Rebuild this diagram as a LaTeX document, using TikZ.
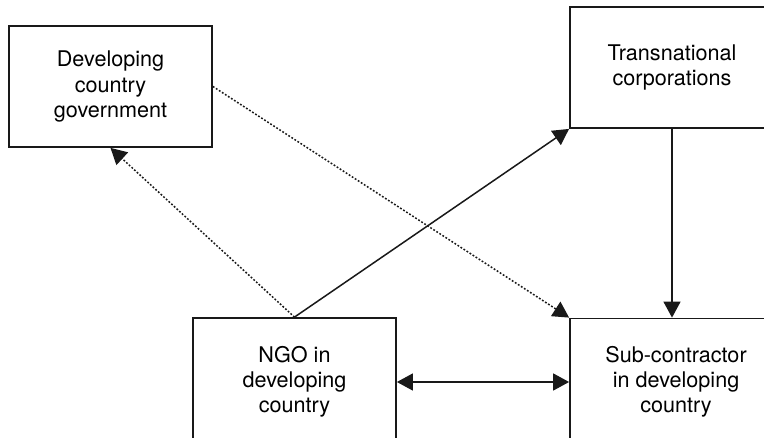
\documentclass[tikz,border=0pt]{standalone}
\usepackage{fontspec}
\setmainfont{TeX Gyre Heros}
\usepackage{tikz}
\usetikzlibrary{arrows.meta}
\tikzset{
	boxstyle/.style={rectangle,draw=black!90,line width=0.9pt,fill=white,align=center,font=\fontsize{10.8}{12.6}\selectfont},
	linkstyle/.style={line width=0.75pt,black!90,-{Triangle[length=8pt,width=8.5pt]}},
	dotstyle/.style={linkstyle,dash pattern=on 0.9pt off 0.9pt}
}
\begin{document}
\begin{tikzpicture}[x=0.5pt,y=-0.5pt]
	\clip (0,0) rectangle (764,438);
	\fill[white] (0,0) rectangle (764,438);
	\node[boxstyle,minimum width=101.5pt,minimum height=60.5pt] (gov) at (110.5,86.5) {Developing\\country\\government};
	\node[boxstyle,minimum width=102pt,minimum height=60.5pt] (tnc) at (672,67.5) {Transnational\\corporations};
	\node[boxstyle,minimum width=101.5pt,minimum height=64pt] (ngo) at (294.5,382) {NGO in\\developing\\country};
	\node[boxstyle,minimum width=106pt,minimum height=63pt] (sub) at (676,381.5) {Sub-contractor\\in developing\\country};
	\draw[linkstyle] (tnc.south) -- (tnc.south |- sub.north);
	\draw[linkstyle,{Triangle[length=8pt,width=8.5pt]}-{Triangle[length=8pt,width=8.5pt]}] (ngo.east) -- (ngo.east -| sub.west);
	\draw[linkstyle] (ngo.north) -- (tnc.south west);
	\draw[dotstyle] (ngo.north) -- (gov.south);
	\draw[dotstyle] (gov.east) -- (sub.north west);
\end{tikzpicture}
\end{document}
